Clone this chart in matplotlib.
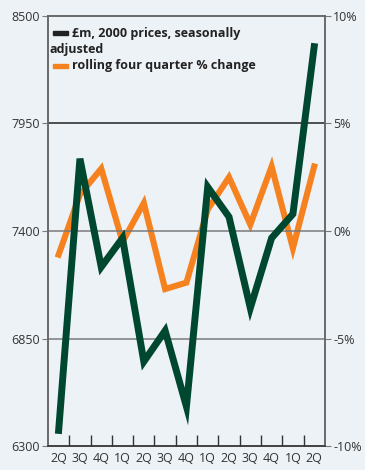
import matplotlib

matplotlib.use("Agg")
import matplotlib.pyplot as plt
from matplotlib.patches import Rectangle

# quarters shown on the x axis
quarters = ["2Q", "3Q", "4Q", "1Q", "2Q", "3Q", "4Q", "1Q", "2Q", "3Q", "4Q", "1Q", "2Q"]
# £m, 2000 prices, seasonally adjusted (left axis)
level = [6380, 7770, 7216, 7364, 6732, 6890, 6502, 7625, 7472, 7006, 7364, 7487, 8343]
# rolling four quarter % change (right axis)
pct_change = [-1.1, 1.7, 2.9, -0.5, 1.3, -2.7, -2.4, 1.0, 2.5, 0.3, 3.0, -0.8, 3.0]

left_ticks = [6300, 6850, 7400, 7950, 8500]
right_ticks = [-10, -5, 0, 5, 10]
right_labels = ["-10%", "-5%", "0%", "5%", "10%"]

BG = "#edf2f7"
GREEN = "#00472f"
ORANGE = "#f5821f"
GRID = "#7a7a7a"
TXT = "#333333"

plt.rcParams["font.family"] = ["Open Sans", "DejaVu Sans"]

fig = plt.figure(figsize=(3.65, 4.70), dpi=100, facecolor=BG)
ax = fig.add_axes([0.1315, 0.051, 0.7585, 0.915], facecolor=BG)
ax2 = ax.twinx()

x = list(range(len(quarters)))
ax.set_xlim(-0.5, len(quarters) - 0.5)
ax.set_ylim(6300, 8500)
ax2.set_ylim(-10, 10)

for t in left_ticks[1:-1]:
    ax.axhline(t, color="#222222" if t == 7950 else GRID, lw=1.1, zorder=1)

ax2.plot(x, pct_change, color=ORANGE, lw=4.4, solid_joinstyle="miter", zorder=3)
ax.plot(x, level, color=GREEN, lw=5.0, solid_joinstyle="miter", zorder=4)
ax.set_zorder(ax2.get_zorder() + 1)
ax.patch.set_visible(False)
ax2.patch.set_visible(True)
ax2.patch.set_facecolor(BG)

ax.set_yticks(left_ticks)
ax.set_yticklabels([str(t) for t in left_ticks], fontsize=9, color=TXT)
ax2.set_yticks(right_ticks)
ax2.set_yticklabels(right_labels, fontsize=9, color=TXT)

ax.set_xticks(x)
ax.set_xticklabels(quarters, fontsize=9, color=TXT)
ax.set_xticks([i + 0.5 for i in x[:-1]], minor=True)
ax.tick_params(axis="x", which="major", length=0, pad=4)
ax.tick_params(axis="x", which="minor", direction="in", length=8, color="#333333", width=1)
ax.tick_params(axis="y", length=4, color=GRID, pad=2)
ax2.tick_params(axis="y", length=4, color=GRID, pad=2)

for a in (ax, ax2):
    for s in a.spines.values():
        s.set_color("#666666")
        s.set_linewidth(1.1)
ax.spines["bottom"].set_color("#333333")

# legend drawn by hand, handles and wrapped text inside the plot
ax.add_patch(Rectangle((0.018, 0.956), 0.054, 0.009, transform=ax.transAxes,
                       color="#222222", clip_on=False, zorder=6))
ax.text(0.085, 0.960, "£m, 2000 prices, seasonally", transform=ax.transAxes,
        fontsize=9, fontweight="bold", color="#222222", va="center", zorder=6)
ax.text(0.006, 0.922, "adjusted", transform=ax.transAxes,
        fontsize=9, fontweight="bold", color="#222222", va="center", zorder=6)
ax.add_patch(Rectangle((0.018, 0.880), 0.054, 0.009, transform=ax.transAxes,
                       color=ORANGE, clip_on=False, zorder=6))
ax.text(0.085, 0.884, "rolling four quarter % change", transform=ax.transAxes,
        fontsize=9, fontweight="bold", color="#222222", va="center", zorder=6)

fig.savefig("out.png", dpi=100, facecolor=BG)
